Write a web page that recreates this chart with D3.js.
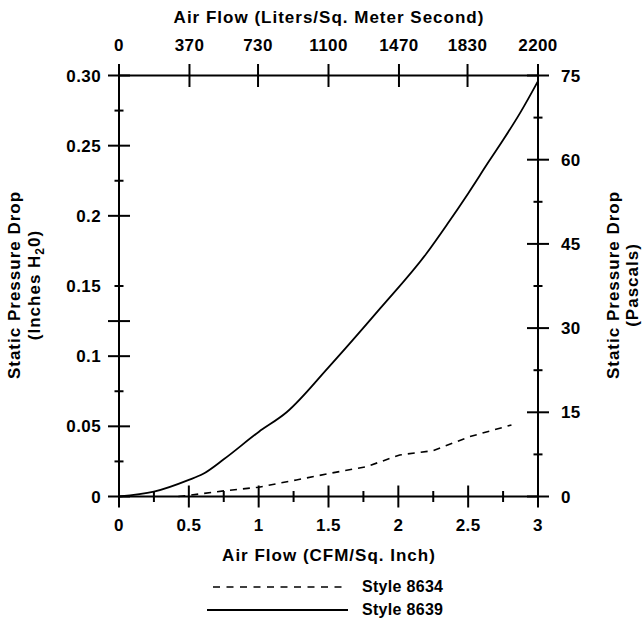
<!DOCTYPE html>
<html>
<head>
<meta charset="utf-8">
<script src="https://cdn.jsdelivr.net/npm/d3@7"></script>
<style>
  body { margin: 0; background: #fff; }
  text { font-family: "Liberation Sans", Arial, sans-serif; font-weight: bold; fill: #000; }
  .tick-label { font-size: 17px; letter-spacing: 0.4px; }
  .title { font-size: 17px; letter-spacing: 1px; }
  .legend { font-size: 16px; letter-spacing: 0.3px; }
</style>
</head>
<body>
<script>
// air flow in CFM/sq. inch, pressure drop in inches H2O
var flow8639 = [0, 0.25, 0.5, 0.6, 0.75, 1.0, 1.2, 1.5, 1.87, 2.2, 2.35, 2.5, 2.65, 2.75, 2.87, 3.0];
var drop8639 = [0, 0.0034, 0.0118, 0.016, 0.0265, 0.046, 0.060, 0.092, 0.134, 0.173, 0.194, 0.216, 0.239, 0.254, 0.273, 0.296];

var flow8634 = [0.425, 0.51, 0.75, 1.0, 1.27, 1.51, 1.77, 2.01, 2.25, 2.51, 2.81];
var drop8634 = [0, 0.001, 0.004, 0.0066, 0.0118, 0.0165, 0.0212, 0.0296, 0.0327, 0.0426, 0.051];

var bottomTicks = [0, 0.5, 1, 1.5, 2, 2.5, 3];
var bottomMinor = [0.25, 0.75, 1.25, 1.75, 2.25, 2.75];
var bottomLabels = ["0", "0.5", "1", "1.5", "2", "2.5", "3"];

var topTicks = [0, 370, 730, 1100, 1470, 1830, 2200];

var leftLabelVals = [0, 0.05, 0.1, 0.15, 0.2, 0.25, 0.3];
var leftLabels = ["0", "0.05", "0.1", "0.15", "0.2", "0.25", "0.30"];
var leftLong = [0, 0.05, 0.1, 0.125, 0.2, 0.25, 0.3];
var leftShort = [0.025, 0.075, 0.15, 0.225, 0.275];

var rightTicks = [0, 15, 30, 45, 60, 75];
var rightMinor = [7.5, 22.5, 37.5, 52.5, 67.5];

var svgWidth = 642;
var svgHeight = 618;

var svg = d3.select("body")
            .append("svg")
            .attr("width", svgWidth)
            .attr("height", svgHeight);

var x = d3.scaleLinear().domain([0, 3]).range([119, 538]);
var xTop = d3.scaleLinear().domain([0, 2200]).range([119, 538]);
var y = d3.scaleLinear().domain([0, 0.3]).range([496.5, 75.5]);
var yRight = d3.scaleLinear().domain([0, 75]).range([496.5, 75.5]);

var x0 = x.range()[0], x1 = x.range()[1];
var y0 = y.range()[0], y1 = y.range()[1];

var axisG = svg.append("g")
               .attr("stroke", "#000")
               .attr("stroke-width", 2)
               .attr("fill", "none");

// frame
axisG.append("line").attr("x1", x0).attr("x2", x1).attr("y1", y0).attr("y2", y0);
axisG.append("line").attr("x1", x0).attr("x2", x1).attr("y1", y1).attr("y2", y1);
axisG.append("line").attr("x1", x0).attr("x2", x0).attr("y1", y0).attr("y2", y1);
axisG.append("line").attr("x1", x1).attr("x2", x1).attr("y1", y0).attr("y2", y1);

function hTicks(vals, scale, xc, len) {
    axisG.selectAll(null).data(vals).enter().append("line")
         .attr("x1", xc - len).attr("x2", xc + len)
         .attr("y1", d => scale(d)).attr("y2", d => scale(d));
}
function vTicks(vals, scale, yc, len) {
    axisG.selectAll(null).data(vals).enter().append("line")
         .attr("y1", yc - len).attr("y2", yc + len)
         .attr("x1", d => scale(d)).attr("x2", d => scale(d));
}

hTicks(leftLong, y, x0, 11);
hTicks(leftShort, y, x0, 4.5);
hTicks(rightTicks, yRight, x1, 11);
hTicks(rightMinor, yRight, x1, 4.5);
vTicks(bottomTicks, x, y0, 11);
vTicks(bottomMinor, x, y0, 5.5);
vTicks(topTicks, xTop, y1, 11.5);

// tick labels
svg.append("g").selectAll("text").data(leftLabelVals).enter().append("text")
   .attr("class", "tick-label")
   .attr("x", 101).attr("y", d => y(d)).attr("dy", "0.36em")
   .attr("text-anchor", "end")
   .text((d, i) => leftLabels[i]);

svg.append("g").selectAll("text").data(rightTicks).enter().append("text")
   .attr("class", "tick-label")
   .attr("x", 561).attr("y", d => yRight(d)).attr("dy", "0.36em")
   .attr("text-anchor", "start")
   .text(d => d);

svg.append("g").selectAll("text").data(bottomTicks).enter().append("text")
   .attr("class", "tick-label")
   .attr("x", d => x(d)).attr("y", 531)
   .attr("text-anchor", "middle")
   .text((d, i) => bottomLabels[i]);

svg.append("g").selectAll("text").data(topTicks).enter().append("text")
   .attr("class", "tick-label")
   .attr("x", d => xTop(d)).attr("y", 51)
   .attr("text-anchor", "middle")
   .text(d => d);

// axis titles
svg.append("text").attr("class", "title").attr("x", 329).attr("y", 23).attr("text-anchor", "middle")
   .text("Air Flow (Liters/Sq. Meter Second)");
svg.append("text").attr("class", "title").attr("x", 329).attr("y", 561).attr("text-anchor", "middle")
   .text("Air Flow (CFM/Sq. Inch)");

svg.append("text").attr("class", "title").attr("transform", "translate(20,285) rotate(-90)")
   .attr("text-anchor", "middle").text("Static Pressure Drop");
var h2o = svg.append("text").attr("class", "title").attr("transform", "translate(40,285) rotate(-90)")
   .attr("text-anchor", "middle");
h2o.append("tspan").text("(Inches H");
h2o.append("tspan").attr("dy", 4).style("font-size", "12px").text("2");
h2o.append("tspan").attr("dy", -4).text("0)");

svg.append("text").attr("class", "title").attr("transform", "translate(619,285) rotate(-90)")
   .attr("text-anchor", "middle").text("Static Pressure Drop");
svg.append("text").attr("class", "title").attr("transform", "translate(638,285) rotate(-90)")
   .attr("text-anchor", "middle").text("(Pascals)");

// curves
var smooth = d3.line()
               .curve(d3.curveMonotoneX)
               .x(d => x(d[0]))
               .y(d => y(d[1]));
var line = d3.line()
             .x(d => x(d[0]))
             .y(d => y(d[1]));

svg.append("path")
   .datum(d3.zip(flow8639, drop8639))
   .attr("d", smooth)
   .attr("fill", "none")
   .attr("stroke", "#000")
   .attr("stroke-width", 1.8);

svg.append("path")
   .datum(d3.zip(flow8634, drop8634))
   .attr("d", line)
   .attr("fill", "none")
   .attr("stroke", "#000")
   .attr("stroke-width", 1.6)
   .attr("stroke-dasharray", "7,6");

// legend
svg.append("line").attr("x1", 213).attr("x2", 348).attr("y1", 587).attr("y2", 587)
   .attr("stroke", "#000").attr("stroke-width", 1.6).attr("stroke-dasharray", "7,6.5");
svg.append("text").attr("class", "legend").attr("x", 362).attr("y", 592).text("Style 8634");
svg.append("line").attr("x1", 207).attr("x2", 348).attr("y1", 610).attr("y2", 610)
   .attr("stroke", "#000").attr("stroke-width", 1.8);
svg.append("text").attr("class", "legend").attr("x", 362).attr("y", 615).text("Style 8639");
</script>
</body>
</html>
